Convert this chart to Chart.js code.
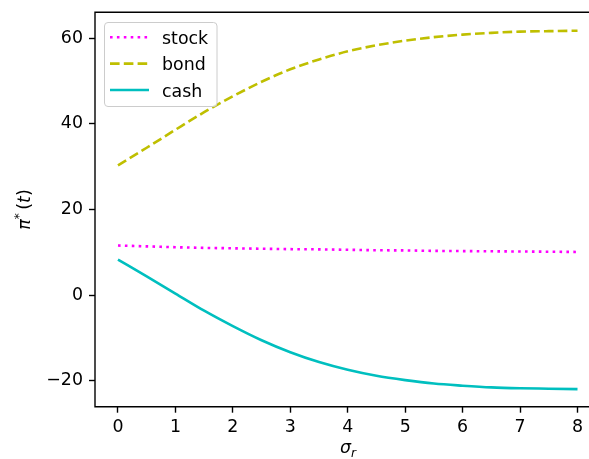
<!DOCTYPE html>
<html>
<head>
<meta charset="utf-8">
<script src="https://cdn.jsdelivr.net/npm/chart.js@4.4.0/dist/chart.umd.min.js"></script>
<style>
  html, body { margin: 0; padding: 0; background: #fff; }
  canvas { display: block; }
</style>
</head>
<body>
<canvas id="piChart" width="589" height="459"></canvas>
<script>
// values
const sigmaR = [0, 0.5, 1, 1.5, 2, 2.5, 3, 3.5, 4, 4.5, 5, 5.5, 6, 6.5, 7, 7.5, 8];
const stock = [11.6, 11.4, 11.2, 11.05, 10.95, 10.85, 10.75, 10.7, 10.6, 10.5, 10.45, 10.35, 10.3, 10.25, 10.2, 10.15, 10.1];
const bond = [30.3, 34.4, 38.6, 42.7, 46.4, 49.8, 52.7, 55.0, 56.9, 58.3, 59.4, 60.2, 60.8, 61.2, 61.5, 61.6, 61.7];
const cash = [8.3, 4.4, 0.4, -3.6, -7.2, -10.5, -13.3, -15.6, -17.4, -18.8, -19.8, -20.6, -21.1, -21.5, -21.7, -21.8, -21.9];
const seriesLabels = ['stock', 'bond', 'cash'];
const xTicks = [0, 1, 2, 3, 4, 5, 6, 7, 8];
const yTicks = [-20, 0, 20, 40, 60];

const FONT = "'DejaVu Sans', sans-serif";
const FS = 17.4;
const LW = 2.6;

const toPoints = ys => sigmaR.map((s, i) => ({ x: s, y: ys[i] }));

// spines, axis titles with sub/superscripts, and the legend box
const decorations = {
  id: 'decorations',
  afterDraw(chart) {
    const ctx = chart.ctx;
    const a = chart.chartArea;
    ctx.save();

    // spines (the right one falls outside the picture)
    ctx.strokeStyle = '#000';
    ctx.lineWidth = 1.4;
    ctx.beginPath();
    ctx.moveTo(chart.width + 2, a.top);
    ctx.lineTo(a.left, a.top);
    ctx.lineTo(a.left, a.bottom);
    ctx.lineTo(chart.width + 2, a.bottom);
    ctx.stroke();

    // x title: sigma_r
    ctx.fillStyle = '#000';
    ctx.textBaseline = 'alphabetic';
    ctx.textAlign = 'left';
    ctx.font = 'italic ' + FS + 'px ' + FONT;
    const sw = ctx.measureText('σ').width;
    ctx.font = 'italic ' + (FS * 0.7) + 'px ' + FONT;
    const rw = ctx.measureText('r').width;
    let x0 = 348 - (sw + rw) / 2;
    ctx.font = 'italic ' + FS + 'px ' + FONT;
    ctx.fillText('σ', x0, 453);
    ctx.font = 'italic ' + (FS * 0.7) + 'px ' + FONT;
    ctx.fillText('r', x0 + sw, 457);

    // y title: pi^*(t)
    const parts = [
      { t: 'π', f: 'italic ' + FS + 'px ' + FONT, dy: 0 },
      { t: '*', f: (FS * 0.7) + 'px ' + FONT, dy: -7.5 },
      { t: '\u2009(', f: FS + 'px ' + FONT, dy: 0 },
      { t: 't', f: 'italic ' + FS + 'px ' + FONT, dy: 0 },
      { t: ')', f: FS + 'px ' + FONT, dy: 0 }
    ];
    let total = 0;
    parts.forEach(p => { ctx.font = p.f; p.w = ctx.measureText(p.t).width; total += p.w; });
    ctx.translate(30, (a.top + a.bottom) / 2);
    ctx.rotate(-Math.PI / 2);
    let px = -total / 2;
    parts.forEach(p => { ctx.font = p.f; ctx.fillText(p.t, px, p.dy); px += p.w; });
    ctx.setTransform(1, 0, 0, 1, 0, 0);

    // legend
    ctx.beginPath();
    ctx.roundRect(104.5, 22.5, 112.5, 84, 3.5);
    ctx.fillStyle = 'rgba(255,255,255,0.8)';
    ctx.fill();
    ctx.strokeStyle = '#cccccc';
    ctx.lineWidth = 1;
    ctx.stroke();

    const baselines = [43.8, 70.2, 96.6];
    chart.data.datasets.forEach((ds, i) => {
      const hy = baselines[i] - 6.6;
      ctx.beginPath();
      ctx.setLineDash(ds.borderDash || []);
      ctx.lineCap = 'butt';
      ctx.strokeStyle = ds.borderColor;
      ctx.lineWidth = ds.borderWidth;
      ctx.moveTo(110, hy);
      ctx.lineTo(149, hy);
      ctx.stroke();
      ctx.setLineDash([]);
      ctx.fillStyle = '#000';
      ctx.font = FS + 'px ' + FONT;
      ctx.fillText(ds.label, 162, baselines[i]);
    });
    ctx.restore();
  }
};

const tickGrid = {
  display: true,
  drawOnChartArea: false,
  drawTicks: true,
  tickLength: 6,
  tickWidth: 1.4,
  tickColor: '#000'
};

new Chart(document.getElementById('piChart').getContext('2d'), {
  type: 'line',
  data: {
    datasets: [
      {
        label: seriesLabels[0],
        data: toPoints(stock),
        borderColor: '#ff00ff',
        borderWidth: LW,
        borderDash: [2.6, 4.3],
        borderCapStyle: 'butt'
      },
      {
        label: seriesLabels[1],
        data: toPoints(bond),
        borderColor: '#bfbf00',
        borderWidth: LW,
        borderDash: [9.6, 4.2],
        borderCapStyle: 'butt'
      },
      {
        label: seriesLabels[2],
        data: toPoints(cash),
        borderColor: '#00bfbf',
        borderWidth: LW
      }
    ]
  },
  options: {
    responsive: false,
    animation: false,
    devicePixelRatio: 1,
    layout: { padding: { top: 12.3, right: 0, left: 0, bottom: 0 } },
    elements: {
      point: { radius: 0 },
      line: { fill: false, cubicInterpolationMode: 'monotone' }
    },
    plugins: {
      legend: { display: false },
      tooltip: { enabled: false }
    },
    scales: {
      x: {
        type: 'linear',
        min: -0.4,
        max: 8.2,
        afterBuildTicks: s => { s.ticks = xTicks.map(v => ({ value: v })); },
        afterFit: s => { s.height = 52.3; s.paddingLeft = 0; s.paddingRight = 0; },
        grid: tickGrid,
        border: { display: false },
        ticks: {
          color: '#000',
          font: { family: FONT, size: FS },
          padding: 4,
          maxRotation: 0,
          autoSkip: false,
          callback: v => String(v)
        }
      },
      y: {
        type: 'linear',
        min: -26,
        max: 66,
        afterBuildTicks: s => { s.ticks = yTicks.map(v => ({ value: v })); },
        afterFit: s => { s.width = 95; s.paddingTop = 0; s.paddingBottom = 0; },
        grid: tickGrid,
        border: { display: false },
        ticks: {
          color: '#000',
          font: { family: FONT, size: FS },
          padding: 6,
          autoSkip: false,
          callback: v => (v < 0 ? '\u2212' + Math.abs(v) : String(v))
        }
      }
    }
  },
  plugins: [decorations]
});
</script>
</body>
</html>
